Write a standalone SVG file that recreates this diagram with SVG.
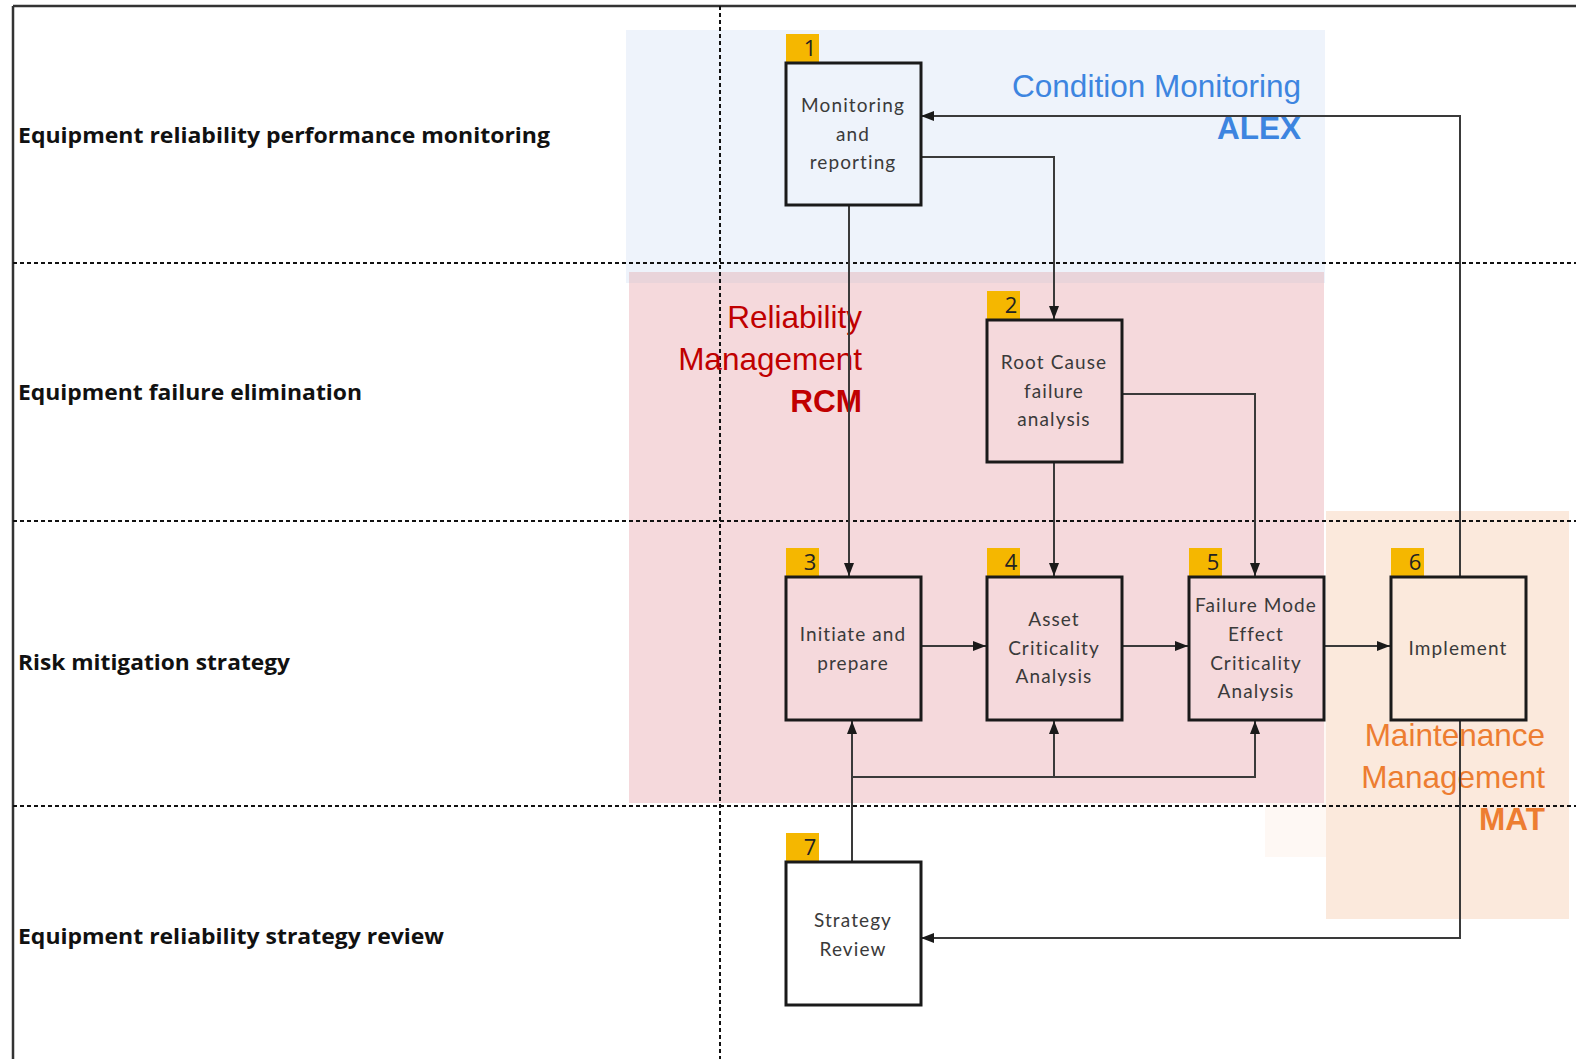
<svg xmlns="http://www.w3.org/2000/svg" width="1576" height="1059" viewBox="0 0 1576 1059">
<style>
.lane{font-family:"Open Sans",Lato,sans-serif;font-weight:bold;font-size:22px;fill:#111}
.box{fill:none;stroke:#1a1a1a;stroke-width:3}
.badge{fill:#f5b700}
.num{font-family:"Open Sans","Liberation Sans",sans-serif;font-size:22px;fill:#222;text-anchor:middle}
.bt{font-family:Lato,"Open Sans",sans-serif;font-size:19px;fill:#3a3a3a;text-anchor:middle;letter-spacing:1.1px}
.big{font-family:"Liberation Sans",Arial,sans-serif;font-size:31.5px;text-anchor:end}
.b{font-weight:bold}
.con{fill:none;stroke:#3a3a3a;stroke-width:2}
.dash{fill:none;stroke:#111;stroke-width:2;stroke-dasharray:4 3}
</style>
<defs>
<marker id="ah" viewBox="0 0 13 10" refX="13" refY="5" markerWidth="13" markerHeight="10" markerUnits="userSpaceOnUse" orient="auto">
<path d="M0,0 L13,5 L0,10 Z" fill="#1a1a1a"/>
</marker>
</defs>
<rect width="1576" height="1059" fill="#ffffff"/>
<g id="regions">
<rect x="1265" y="700" width="295" height="157" fill="#fbe9dc" opacity="0.3"/>
<rect x="626" y="30" width="699" height="253" fill="#eef3fb"/>
<rect x="629" y="272" width="695" height="531" fill="#f5d9dc"/>
<rect x="629" y="272" width="695" height="11" fill="#e9d4da"/>
<rect x="1326" y="511" width="243" height="408" fill="#fbe9dc"/>
</g>
<g id="frame">
<line x1="13" y1="6" x2="1576" y2="6" stroke="#333" stroke-width="2.5"/>
<line x1="13" y1="6" x2="13" y2="1059" stroke="#333" stroke-width="2.5"/>
<line class="dash" x1="13" y1="263" x2="1576" y2="263"/>
<line class="dash" x1="13" y1="521" x2="1576" y2="521"/>
<line class="dash" x1="13" y1="806" x2="1576" y2="806"/>
<line class="dash" x1="720" y1="6" x2="720" y2="1059"/>
</g>
<g id="lanes">
<text class="lane" x="18" y="143" textLength="532" lengthAdjust="spacingAndGlyphs">Equipment reliability performance monitoring</text>
<text class="lane" x="18" y="400" textLength="344" lengthAdjust="spacingAndGlyphs">Equipment failure elimination</text>
<text class="lane" x="18" y="670" textLength="272" lengthAdjust="spacingAndGlyphs">Risk mitigation strategy</text>
<text class="lane" x="18" y="944" textLength="426" lengthAdjust="spacingAndGlyphs">Equipment reliability strategy review</text>
</g>
<g id="area-labels">
<text class="big" x="1301" y="97" fill="#3d85e0">Condition Monitoring</text>
<text class="big b" x="1301" y="139" fill="#3d85e0">ALEX</text>
<text class="big" x="862" y="328" fill="#c00000">Reliability</text>
<text class="big" x="862" y="370" fill="#c00000">Management</text>
<text class="big b" x="862" y="412" fill="#c00000">RCM</text>
<text class="big" x="1545" y="746" fill="#ed7d31">Maintenance</text>
<text class="big" x="1545" y="788" fill="#ed7d31">Management</text>
<text class="big b" x="1545" y="830" fill="#ed7d31">MAT</text>
</g>
<g id="connectors">
<path class="con" d="M1460,577 V116 H921" marker-end="url(#ah)"/>
<path class="con" d="M921,157 H1054 V319" marker-end="url(#ah)"/>
<path class="con" d="M849,205 V576" marker-end="url(#ah)"/>
<path class="con" d="M1054,462 V576" marker-end="url(#ah)"/>
<path class="con" d="M1122,394 H1255 V576" marker-end="url(#ah)"/>
<path class="con" d="M920,646 H986" marker-end="url(#ah)"/>
<path class="con" d="M1122,646 H1188" marker-end="url(#ah)"/>
<path class="con" d="M1324,646 H1390" marker-end="url(#ah)"/>
<path class="con" d="M852,862 V721" marker-end="url(#ah)"/>
<path class="con" d="M852,777 H1255 V721" marker-end="url(#ah)"/>
<path class="con" d="M1054,777 V721" marker-end="url(#ah)"/>
<path class="con" d="M1460,720 V938 H921" marker-end="url(#ah)"/>
</g>
<g id="n1">
<rect class="badge" x="786" y="34" width="33" height="29"/>
<text class="num" x="810" y="56">1</text>
<rect class="box" x="786" y="63" width="135" height="142"/>
<text class="bt" x="853" y="112">Monitoring</text>
<text class="bt" x="853" y="141">and</text>
<text class="bt" x="853" y="169">reporting</text>
</g>
<g id="n2">
<rect class="badge" x="987" y="291" width="33" height="29"/>
<text class="num" x="1011" y="313">2</text>
<rect class="box" x="987" y="320" width="135" height="142"/>
<text class="bt" x="1054" y="369">Root Cause</text>
<text class="bt" x="1054" y="398">failure</text>
<text class="bt" x="1054" y="426">analysis</text>
</g>
<g id="n3">
<rect class="badge" x="786" y="548" width="33" height="29"/>
<text class="num" x="810" y="570">3</text>
<rect class="box" x="786" y="577" width="135" height="143"/>
<text class="bt" x="853" y="641">Initiate and</text>
<text class="bt" x="853" y="670">prepare</text>
</g>
<g id="n4">
<rect class="badge" x="987" y="548" width="33" height="29"/>
<text class="num" x="1011" y="570">4</text>
<rect class="box" x="987" y="577" width="135" height="143"/>
<text class="bt" x="1054" y="626">Asset</text>
<text class="bt" x="1054" y="655">Criticality</text>
<text class="bt" x="1054" y="683">Analysis</text>
</g>
<g id="n5">
<rect class="badge" x="1189" y="548" width="33" height="29"/>
<text class="num" x="1213" y="570">5</text>
<rect class="box" x="1189" y="577" width="135" height="143"/>
<text class="bt" x="1256" y="612">Failure Mode</text>
<text class="bt" x="1256" y="641">Effect</text>
<text class="bt" x="1256" y="670">Criticality</text>
<text class="bt" x="1256" y="698">Analysis</text>
</g>
<g id="n6">
<rect class="badge" x="1391" y="548" width="33" height="29"/>
<text class="num" x="1415" y="570">6</text>
<rect class="box" x="1391" y="577" width="135" height="143"/>
<text class="bt" x="1458" y="655">Implement</text>
</g>
<g id="n7">
<rect class="badge" x="786" y="833" width="33" height="29"/>
<text class="num" x="810" y="855">7</text>
<rect class="box" x="786" y="862" width="135" height="143"/>
<text class="bt" x="853" y="927">Strategy</text>
<text class="bt" x="853" y="956">Review</text>
</g>
</svg>
